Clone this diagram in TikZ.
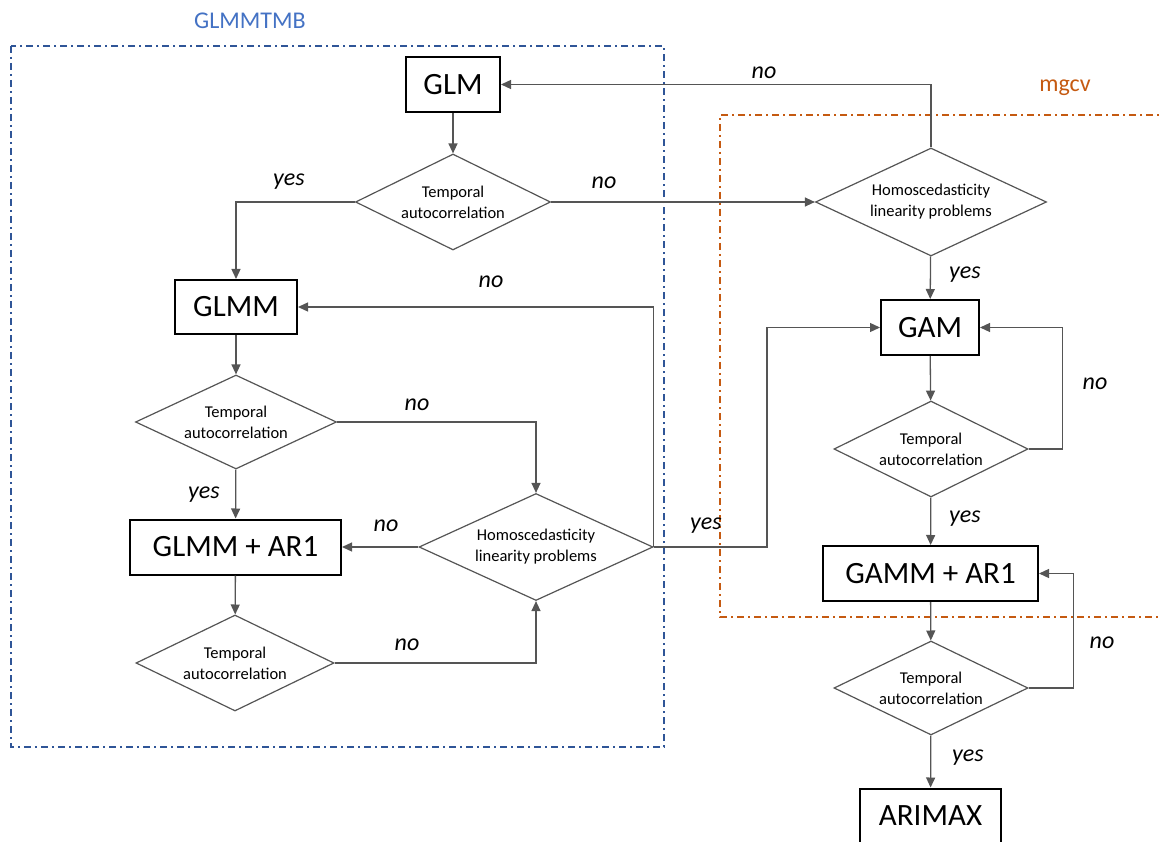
\documentclass[tikz,border=0pt]{standalone}
\usepackage{fontspec}
\setmainfont{Carlito}
\usetikzlibrary{shapes.geometric,arrows.meta}
\definecolor{glmmBlue}{RGB}{47,85,151}
\definecolor{titleBlue}{RGB}{68,114,196}
\definecolor{mgcvOrange}{RGB}{197,90,17}
\definecolor{lineGrey}{RGB}{85,85,85}

\begin{document}
\begin{tikzpicture}[x=1pt,y=-1pt,
        model/.style={draw=black,line width=2pt,fill=white,inner sep=0pt,font=\fontsize{31}{36}\selectfont},
        question/.style={diamond,draw=lineGrey,line width=1.2pt,fill=white,aspect=2,inner sep=0pt,align=center,font=\fontsize{16.5}{21}\selectfont},
        flow/.style={draw=lineGrey,line width=1.3pt,-{Triangle[length=10pt,width=9pt]}},
        answer/.style={font=\itshape\fontsize{24}{28}\selectfont},
        pkgbox/.style={line width=1.8pt,dash pattern=on 7pt off 4pt on 2pt off 4pt}]

        \useasboundingbox (0,0) rectangle (1162,842);

        % package frames
        \draw[pkgbox,glmmBlue] (11,46) rectangle (664,747);
        \draw[pkgbox,mgcvOrange] (1170,115) -| (720,617) -- (1170,617);
        \node[text=titleBlue,font=\fontsize{24}{28}\selectfont] (glmmtmbTitle) at (250,21) {GLMMTMB};
        \node[text=mgcvOrange,font=\fontsize{24}{28}\selectfont] (mgcvTitle) at (1065,88) {mgcv};

        % glmmTMB branch
        \node[model,minimum width=94pt,minimum height=55pt] (glm) at (453,84.5) {GLM};
        \node[question,minimum width=195pt,minimum height=96pt] (tempA) at (453,202) {Temporal\\autocorrelation};
        \node[model,minimum width=122pt,minimum height=54pt] (glmm) at (236,307) {GLMM};
        \node[question,minimum width=201pt,minimum height=94pt] (tempB) at (236,422) {Temporal\\autocorrelation};
        \node[model,minimum width=211pt,minimum height=55pt] (glmmAr) at (235.5,547) {GLMM + AR1};
        \node[question,minimum width=234pt,minimum height=107pt] (homoB) at (536,547) {Homoscedasticity\\linearity problems};
        \node[question,minimum width=198pt,minimum height=96pt] (tempC) at (235,663) {Temporal\\autocorrelation};

        % mgcv branch
        \node[question,minimum width=231pt,minimum height=108pt] (homoA) at (931,202) {Homoscedasticity\\linearity problems};
        \node[model,minimum width=98pt,minimum height=55pt] (gam) at (930,327.5) {GAM};
        \node[question,minimum width=194pt,minimum height=96pt] (tempD) at (931,449) {Temporal\\autocorrelation};
        \node[model,minimum width=215pt,minimum height=55pt] (gammAr) at (930.5,573.5) {GAMM + AR1};
        \node[question,minimum width=194pt,minimum height=94pt] (tempE) at (931,688) {Temporal\\autocorrelation};
        \node[model,minimum width=141pt,minimum height=55pt] (arimax) at (930.5,816) {ARIMAX};
        \coordinate (yesBend) at (767,547);

        % connectors
        \draw[flow] (glm) -- (tempA);
        \draw[flow] (tempA.west) -| (glmm.north);
        \draw[flow] (tempA.east) -- (homoA.west);
        \draw[flow] (homoA.north) |- (glm.east);
        \draw[flow] (glmm) -- (tempB);
        \draw[flow] (tempB.east) -| (homoB.north);
        \draw[flow] (tempB) -- (glmmAr);
        \draw[flow] (homoB.west) -- (glmmAr.east);
        \draw[flow] (homoB.east) |- (glmm.east);
        \draw[flow] (homoB.east) -- (yesBend) |- (gam.west);
        \draw[flow] (glmmAr) -- (tempC);
        \draw[flow] (tempC.east) -| (homoB.south);
        \draw[flow] (homoA) -- (gam);
        \draw[flow] (gam) -- (tempD);
        \draw[flow] (tempD.east) -- ++(34,0) |- (gam.east);
        \draw[flow] (tempD) -- (gammAr);
        \draw[flow] (gammAr) -- (tempE);
        \draw[flow] (tempE.east) -- ++(45,0) |- (gammAr.east);
        \draw[flow] (tempE) -- (arimax);

        % answers
        \node[answer] (yesA) at (289,182) {yes};
        \node[answer] (noA) at (604,183) {no};
        \node[answer] (noB) at (764,73) {no};
        \node[answer] (noC) at (491,282) {no};
        \node[answer] (noD) at (417,405) {no};
        \node[answer] (yesB) at (204,495) {yes};
        \node[answer] (noE) at (386,526) {no};
        \node[answer] (yesC) at (706,526) {yes};
        \node[answer] (noF) at (407,645) {no};
        \node[answer] (yesD) at (965,275) {yes};
        \node[answer] (noG) at (1095,384) {no};
        \node[answer] (yesE) at (965,519) {yes};
        \node[answer] (noH) at (1102,643) {no};
        \node[answer] (yesF) at (968,758) {yes};

    \end{tikzpicture}
\end{document}
